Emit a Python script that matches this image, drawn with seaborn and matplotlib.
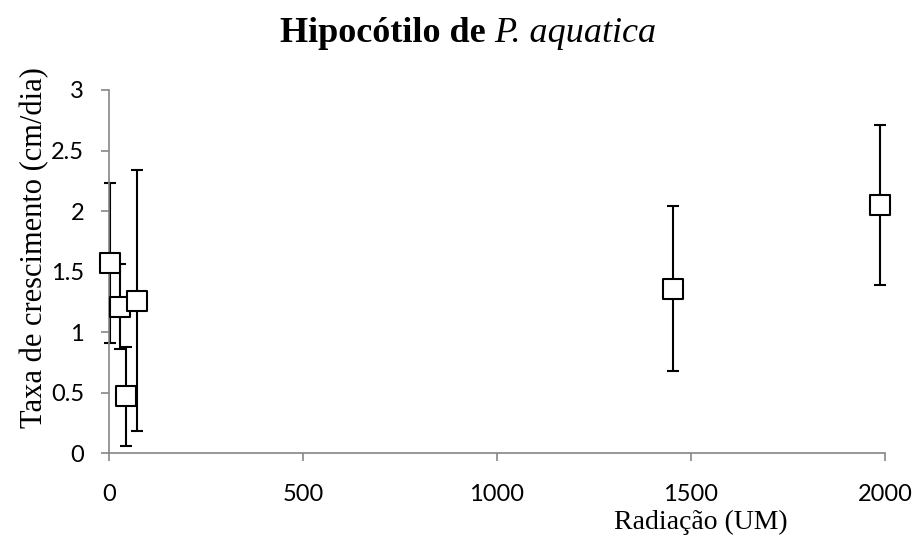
import matplotlib
matplotlib.use("Agg")
import matplotlib.pyplot as plt
import seaborn as sns
import pandas as pd

# radiacao (UM) vs taxa de crescimento (cm/dia)
radiacao = [2, 28, 45, 72, 1453, 1987]
taxa = [1.57, 1.21, 0.47, 1.26, 1.36, 2.05]
erro = [0.66, 0.35, 0.41, 1.08, 0.68, 0.66]
x_ticks = [0, 500, 1000, 1500, 2000]
y_ticks = [0, 0.5, 1, 1.5, 2, 2.5, 3]

df = pd.DataFrame({"Radiacao": radiacao, "Taxa": taxa, "Erro": erro})

sns.set_style("white")
plt.rcParams["text.color"] = "black"
serif = ["Liberation Serif", "DejaVu Serif"]
sans = ["Lato", "DejaVu Sans"]

fig = plt.figure(figsize=(9.17, 5.47), dpi=100)
ax = fig.add_axes([0.1189, 0.1713, 0.8462, 0.6642])

eb = ax.errorbar(df["Radiacao"], df["Taxa"], yerr=df["Erro"], fmt="none",
                 ecolor="black", elinewidth=1.5, capsize=4.3, capthick=1.5, zorder=2)
sns.scatterplot(data=df, x="Radiacao", y="Taxa", marker="s", s=200,
                facecolor="white", edgecolor="black", linewidth=1.5,
                ax=ax, zorder=3, legend=False)
for artist in ax.collections + ax.lines:
    artist.set_clip_on(False)

ax.set_xlim(0, 2000)
ax.set_ylim(0, 3)
ax.set_xticks(x_ticks)
ax.set_yticks(y_ticks)
ax.set_xticklabels([str(v) for v in x_ticks], family=sans, fontsize=17, color="black")
ax.set_yticklabels([f"{v:g}" for v in y_ticks], family=sans, fontsize=17, color="black")
ax.tick_params(axis="x", direction="out", length=6, width=1.2, color="#868686", pad=16, bottom=True)
ax.tick_params(axis="y", direction="out", length=6, width=1.2, color="#868686", pad=12, left=True)

for side in ["top", "right"]:
    ax.spines[side].set_visible(False)
for side in ["left", "bottom"]:
    ax.spines[side].set_color("#868686")
    ax.spines[side].set_linewidth(1.2)

ax.set_xlabel("Radiação (UM)", family=serif, fontsize=20, va="center", color="black")
ax.xaxis.set_label_coords(0.762, -0.189)
ax.set_ylabel("Taxa de crescimento (cm/dia)", family=serif, fontsize=22, va="center", color="black")
ax.yaxis.set_label_coords(-0.096, 0.565)

# title: bold part + italic species name
t1 = fig.text(0.0, 1 - 33 / 547, "Hipocótilo de ", family=serif, fontsize=26,
              fontweight="bold", va="center", ha="left")
t2 = fig.text(0.0, 1 - 33 / 547, "P. aquatica", family=serif, fontsize=26,
              fontstyle="italic", va="center", ha="left")
fig.canvas.draw()
r = fig.canvas.get_renderer()
w1 = t1.get_window_extent(r).width
w2 = t2.get_window_extent(r).width
x0 = 468 - (w1 + w2) / 2
t1.set_x(x0 / 917)
t2.set_x((x0 + w1) / 917)

fig.savefig("out.png", dpi=100)
